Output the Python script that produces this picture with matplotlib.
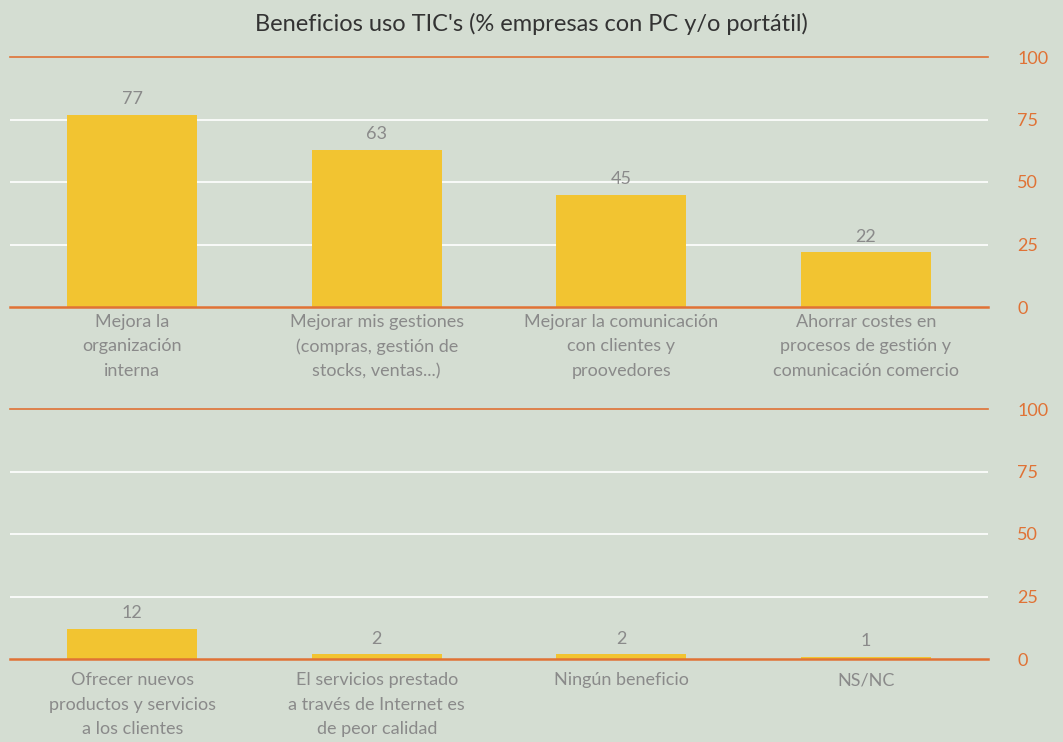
import matplotlib
matplotlib.use('Agg')
import matplotlib.pyplot as plt
import numpy as np

plt.rcParams['font.family'] = ['Lato', 'DejaVu Sans']

BG = '#d4ddd2'
BAR = '#f2c431'
ORANGE = '#e07235'
GREY = '#8a8a8a'

title = "Beneficios uso TIC's (% empresas con PC y/o portátil)"

cats_top = ['Mejora la\norganización\ninterna',
            'Mejorar mis gestiones\n(compras, gestión de\nstocks, ventas...)',
            'Mejorar la comunicación\ncon clientes y\nproovedores',
            'Ahorrar costes en\nprocesos de gestión y\ncomunicación comercio']
vals_top = [77, 63, 45, 22]

cats_bot = ['Ofrecer nuevos\nproductos y servicios\na los clientes',
            'El servicios prestado\na través de Internet es\nde peor calidad',
            'Ningún beneficio',
            'NS/NC']
vals_bot = [12, 2, 2, 1]

yticks = [0, 25, 50, 75, 100]

fig = plt.figure(figsize=(10.63, 7.42), dpi=100, facecolor=BG)
fig.text(0.5, 0.968, title, ha='center', va='center', fontsize=17, color='#333333')

W = 978 / 1063
L = 10 / 1063
H = 250 / 742
ax_top = fig.add_axes([L, (742 - 307) / 742, W, H])
ax_bot = fig.add_axes([L, (742 - 659) / 742, W, H])


def draw_panel(ax, cats, vals, xpad):
    ax.set_facecolor(BG)
    x = np.arange(len(cats))
    ax.bar(x, vals, width=0.53, color=BAR, zorder=2)
    ax.set_xlim(-0.5, len(cats) - 0.5)
    ax.set_ylim(0, 100)
    for y in (25, 50, 75):
        ax.axhline(y, color='white', lw=1.2, zorder=1)
    ax.axhline(100, color=ORANGE, lw=1.2, zorder=3, clip_on=False)
    ax.axhline(0, color=ORANGE, lw=1.8, zorder=3, clip_on=False)
    for s in ax.spines.values():
        s.set_visible(False)
    ax.yaxis.tick_right()
    ax.set_yticks(yticks)
    ax.tick_params(axis='y', length=0, pad=21, labelsize=13, labelcolor=ORANGE)
    for t in ax.get_yticklabels():
        t.set_horizontalalignment('left')
    ax.set_xticks(x)
    ax.set_xticklabels(cats, fontsize=13, color=GREY, linespacing=1.64)
    ax.tick_params(axis='x', length=0, pad=xpad)
    for xi, v in zip(x, vals):
        ax.text(xi, v + 3, str(v), ha='center', va='bottom', fontsize=13, color=GREY)


draw_panel(ax_top, cats_top, vals_top, 5)
draw_panel(ax_bot, cats_bot, vals_bot, 9.5)

fig.savefig('out.png', dpi=100, facecolor=BG)
